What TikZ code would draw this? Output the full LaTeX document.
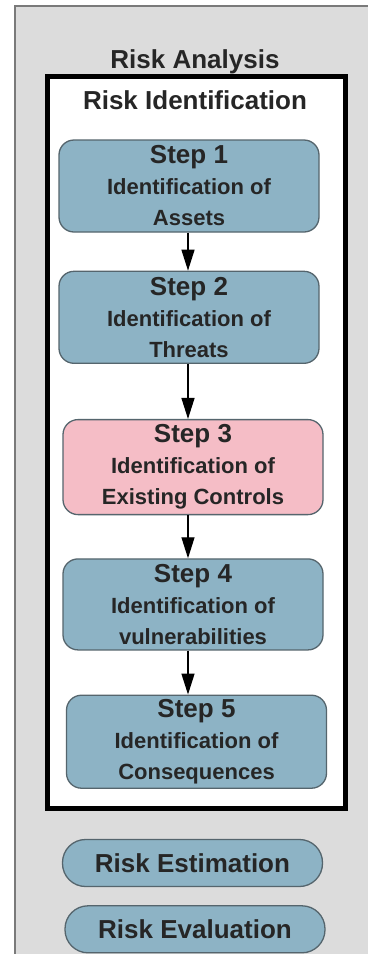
\documentclass[tikz,border=0pt]{standalone}
\usepackage{fontspec}
\setmainfont{Liberation Sans}
\usetikzlibrary{positioning,arrows.meta}

\definecolor{panelgray}{HTML}{DCDCDC}
\definecolor{panelline}{HTML}{7A7A7A}
\definecolor{stepblue}{HTML}{8DB3C5}
\definecolor{steppink}{HTML}{F5BDC6}
\definecolor{stepline}{HTML}{55656D}

\begin{document}
\begin{tikzpicture}[x=1pt,y=-1pt,
		stepbox/.style={rounded corners=15pt,minimum width=260pt,minimum height=92pt,draw=stepline,line width=1.3pt,fill=stepblue,align=center,text=black!85,font=\fontsize{22}{31}\selectfont\bfseries},
		pillbox/.style={rounded corners=23pt,minimum width=260pt,minimum height=47pt,draw=stepline,line width=1.3pt,fill=stepblue,text=black!85,font=\fontsize{26}{30}\selectfont\bfseries},
		titletext/.style={text=black!85,font=\fontsize{26}{30}\selectfont\bfseries},
		steparrow/.style={-{Triangle[length=21pt,width=13pt]},line width=1.3pt}]
		
		\useasboundingbox (0,0) rectangle (368,954);
		
		% grey panel and frame
		\fill[panelgray] (15,6) rectangle (368,954);
		\draw[panelline,line width=2pt] (15,954) -- (15,6) -- (368,6);
		\draw[line width=5pt,fill=white] (47,76) rectangle (345,808);
		
		\node[titletext] (ana) at (195,62) {Risk Analysis};
		\node[titletext] (ident) at (195,100) {Risk Identification};
		
		\node[stepbox] (s1) at (189,186) {{\fontsize{26}{31}\selectfont Step 1}\\Identification of\\Assets};
		\node[stepbox,below=38pt of s1] (s2) {{\fontsize{26}{31}\selectfont Step 2}\\Identification of\\Threats};
		\node[stepbox,fill=steppink,minimum height=95pt,below=55pt of s2,xshift=4pt] (s3) {{\fontsize{26}{31}\selectfont Step 3}\\Identification of\\Existing Controls};
		\node[stepbox,minimum height=91pt,below=43pt of s3] (s4) {{\fontsize{26}{31}\selectfont Step 4}\\Identification of\\vulnerabilities};
		\node[stepbox,minimum height=93pt,below=44pt of s4,xshift=3.5pt] (s5) {{\fontsize{26}{31}\selectfont Step 5}\\Identification of\\Consequences};
		
		\coordinate (ax) at (188,0);
		\draw[steparrow] (s1.south -| ax) -- (s2.north -| ax);
		\draw[steparrow] (s2.south -| ax) -- (s3.north -| ax);
		\draw[steparrow] (s3.south -| ax) -- (s4.north -| ax);
		\draw[steparrow] (s4.south -| ax) -- (s5.north -| ax);
		
		\node[pillbox,below=50pt of s5,xshift=-4pt] (est) {Risk Estimation};
		\node[pillbox,below=18pt of est,xshift=2.5pt] (eva) {Risk Evaluation};
	\end{tikzpicture}
\end{document}
